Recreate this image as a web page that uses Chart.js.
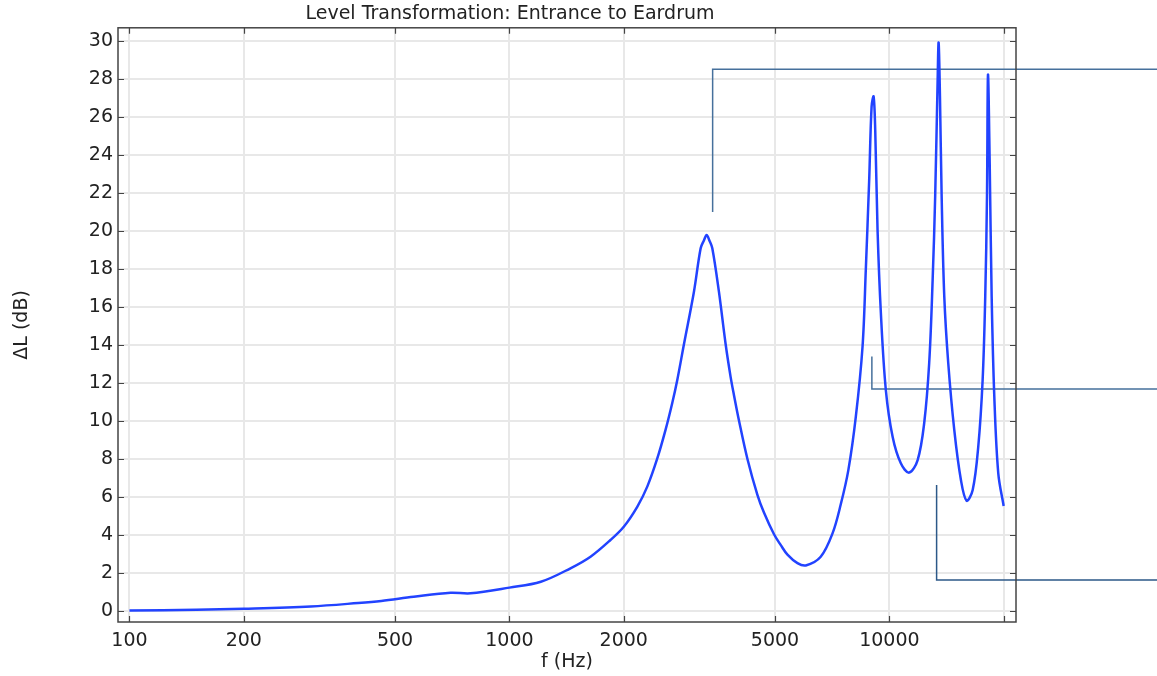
<!DOCTYPE html>
<html>
<head>
<meta charset="utf-8">
<title>Level Transformation: Entrance to Eardrum</title>
<script src="https://cdn.jsdelivr.net/npm/chart.js@4.4.1/dist/chart.umd.min.js"></script>
<style>
  html, body { margin: 0; padding: 0; background: #fff; }
  #wrap { width: 1157px; height: 676px; position: relative; }
</style>
</head>
<body>
<div id="wrap"><canvas id="levelChart"></canvas></div>
<script>
// frequency response
const freqHz = [100, 150, 200, 300, 400, 460, 560, 700, 790, 1000,
  1210, 1448, 1635, 1845, 2000, 2170, 2306, 2449, 2576, 2684,
  2766, 2880, 3060, 3187, 3250, 3305, 3360, 3420, 3560, 3708,
  3822, 3899, 4021, 4230, 4495, 4680, 4971, 5180, 5393, 5730,
  6026, 6597, 7087, 7450, 7800, 8160, 8500, 8670, 8850, 8980,
  9090, 9180, 9310, 9500, 9790, 10200, 10720, 11280, 11870, 12350,
  12730, 13000, 13200, 13400, 13480, 13590, 13730, 13950, 14290, 14820,
  15430, 15970, 16570, 17140, 17600, 17880, 18070, 18180, 18370, 18590,
  18890, 19350, 19990];
const levelDb = [0.0, 0.05, 0.1, 0.22, 0.4, 0.51, 0.73, 0.94, 0.91, 1.21,
  1.52, 2.23, 2.84, 3.72, 4.42, 5.47, 6.53, 8.0, 9.52, 10.95,
  12.15, 14.03, 16.8, 19.09, 19.5, 19.79, 19.5, 19.09, 16.8, 14.03,
  12.3, 11.36, 10.0, 8.0, 6.1, 5.15, 4.02, 3.45, 2.95, 2.5,
  2.38, 2.84, 4.07, 5.6, 7.4, 10.2, 13.9, 17.95, 22.7, 26.55,
  27.08, 25.3, 20.05, 15.66, 11.62, 9.16, 7.76, 7.27, 7.93, 9.87,
  13.03, 17.42, 21.8, 27.96, 29.92, 27.08, 21.8, 16.54, 13.03, 9.52,
  6.88, 5.79, 6.35, 8.64, 12.15, 16.54, 21.8, 28.22, 23.57, 16.54,
  11.27, 7.23, 5.51];

// callout leader lines (they run off the right side of the plot)
const calloutAFreq = [3427, 3427, 60000];
const calloutALevel = [21.0, 28.52, 28.52];
const calloutBFreq = [8995, 8995, 60000];
const calloutBLevel = [13.38, 11.67, 11.67];
const calloutCFreq = [13316, 13316, 60000];
const calloutCLevel = [6.62, 1.61, 1.61];

const xTickValues = [100, 200, 500, 1000, 2000, 5000, 10000, 20000];
const xTickLabels = ["100", "200", "500", "1000", "2000", "5000", "10000", ""];
const yTickValues = [0, 2, 4, 6, 8, 10, 12, 14, 16, 18, 20, 22, 24, 26, 28, 30];

const toPoints = (xs, ys) => xs.map((x, i) => ({ x: x, y: ys[i] }));

const FONT = "'DejaVu Sans', sans-serif";
const frameColor = "#444";

// frame + inward tick marks on all four sides
const framePlugin = {
  id: "frame",
  afterDraw(chart) {
    const { ctx, chartArea: a, scales } = chart;
    ctx.save();
    ctx.strokeStyle = frameColor;
    ctx.lineWidth = 1.5;
    ctx.strokeRect(a.left, a.top, a.right - a.left, a.bottom - a.top);
    ctx.lineWidth = 1.2;
    ctx.beginPath();
    xTickValues.forEach(v => {
      const px = Math.round(scales.x.getPixelForValue(v)) + 0.5;
      ctx.moveTo(px, a.bottom); ctx.lineTo(px, a.bottom - 6);
      ctx.moveTo(px, a.top); ctx.lineTo(px, a.top + 6);
    });
    yTickValues.forEach(v => {
      const py = Math.round(scales.y.getPixelForValue(v)) + 0.5;
      ctx.moveTo(a.left, py); ctx.lineTo(a.left + 6, py);
      ctx.moveTo(a.right, py); ctx.lineTo(a.right - 6, py);
    });
    ctx.stroke();
    ctx.restore();
  }
};

const calloutStyle = (color) => ({
  borderColor: color,
  borderWidth: 1.5,
  pointRadius: 0,
  tension: 0,
  clip: false
});

new Chart(document.getElementById("levelChart"), {
  type: "line",
  data: {
    datasets: [
      {
        label: "Level transformation",
        data: toPoints(freqHz, levelDb),
        borderColor: "#2243ff",
        borderWidth: 2.5,
        pointRadius: 0,
        tension: 0.35
      },
      Object.assign({ label: "callout A", data: toPoints(calloutAFreq, calloutALevel) }, calloutStyle("#46709c")),
      Object.assign({ label: "callout B", data: toPoints(calloutBFreq, calloutBLevel) }, calloutStyle("#46709c")),
      Object.assign({ label: "callout C", data: toPoints(calloutCFreq, calloutCLevel) }, calloutStyle("#2c5888"))
    ]
  },
  options: {
    responsive: true,
    maintainAspectRatio: false,
    animation: false,
    layout: { padding: { left: 4, right: 141, top: 0, bottom: 0 } },
    plugins: {
      legend: { display: false },
      tooltip: { enabled: false },
      title: {
        display: true,
        text: "Level Transformation: Entrance to Eardrum",
        color: "#222",
        font: { family: FONT, size: 19, weight: "normal" },
        padding: { top: 3, bottom: 2 }
      }
    },
    scales: {
      x: {
        type: "logarithmic",
        min: 93.3,
        max: 21544,
        afterBuildTicks: (scale) => { scale.ticks = xTickValues.map(v => ({ value: v })); },
        afterFit: (scale) => { scale.height = 54; },
        ticks: {
          autoSkip: false,
          maxRotation: 0,
          padding: 8,
          color: "#222",
          font: { family: FONT, size: 19 },
          callback: (value) => {
            const i = xTickValues.indexOf(value);
            return i >= 0 ? xTickLabels[i] : "";
          }
        },
        grid: { color: "#e8e8e8", lineWidth: 2, drawTicks: false },
        border: { display: false },
        title: {
          display: true,
          text: "f (Hz)",
          color: "#222",
          font: { family: FONT, size: 19 },
          padding: { top: 0, bottom: 3 }
        }
      },
      y: {
        min: -0.6,
        max: 30.7,
        afterBuildTicks: (scale) => { scale.ticks = yTickValues.map(v => ({ value: v })); },
        afterFit: (scale) => { scale.width = 114; },
        ticks: {
          padding: 5,
          color: "#222",
          font: { family: FONT, size: 19 }
        },
        grid: { color: "#e8e8e8", lineWidth: 2, drawTicks: false },
        border: { display: false },
        title: {
          display: true,
          text: "ΔL (dB)",
          color: "#222",
          font: { family: FONT, size: 19 },
          padding: { top: 7, bottom: 0 }
        }
      }
    }
  },
  plugins: [framePlugin]
});
</script>
</body>
</html>
